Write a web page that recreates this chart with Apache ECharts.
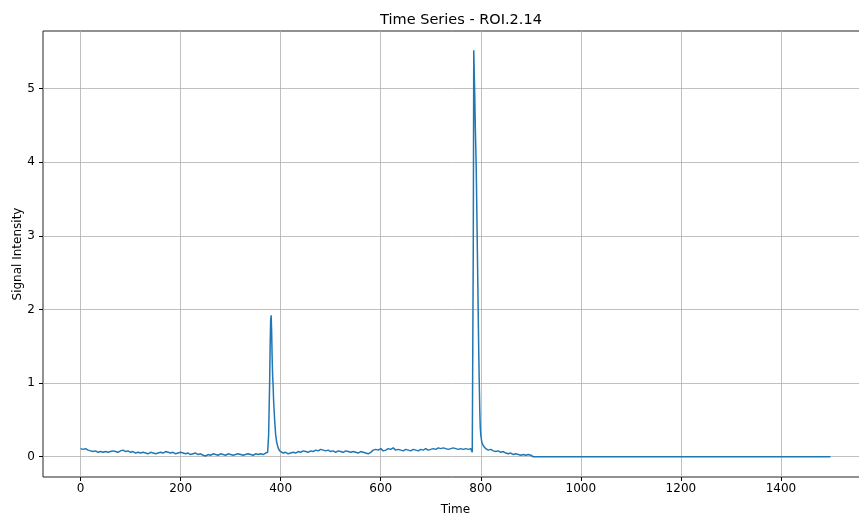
<!DOCTYPE html>
<html>
<head>
<meta charset="utf-8">
<script src="https://cdn.jsdelivr.net/npm/echarts@6/dist/echarts.min.js"></script>
<style>
body { margin: 0; padding: 0; background: #fff; }
#chart { width: 859px; height: 517px; }
</style>
</head>
<body>
<div id="chart"></div>
<script>
// sample times and signal values
const timeValues = [
  0, 5, 10, 15, 20, 25, 30, 35, 40, 45, 50, 55, 60, 65, 70, 75, 80, 85, 90, 95,
  100, 105, 110, 115, 120, 125, 130, 135, 140, 145, 150, 155, 160, 165, 170, 175, 180, 185, 190, 195,
  200, 205, 210, 215, 220, 225, 230, 235, 240, 245, 250, 255, 260, 265, 270, 275, 280, 285, 290, 295,
  300, 305, 310, 315, 320, 325, 330, 335, 340, 345, 350, 355, 360, 365, 370, 374,
  376, 378, 379, 380, 381, 382, 383, 384, 385, 386, 388, 390, 392, 395, 398, 400,
  405, 410, 415, 420, 425, 430, 435, 440, 445, 450, 455, 460, 465, 470, 475, 480, 485, 490, 495,
  500, 505, 510, 515, 520, 525, 530, 535, 540, 545, 550, 555, 560, 565, 570, 575, 580, 585, 590, 595,
  600, 605, 610, 615, 620, 625, 630, 635, 640, 645, 650, 655, 660, 665, 670, 675, 680, 685, 690, 695,
  700, 705, 710, 715, 720, 725, 730, 735, 740, 745, 750, 755, 760, 765, 770, 775, 780, 783, 784,
  785, 786, 787, 788, 789, 790, 791, 792, 793, 794, 795, 796, 797, 798, 799, 800, 802, 805,
  810, 815, 820, 825, 830, 835, 840, 845, 850, 855, 860, 865, 870, 875, 880, 885, 890, 895, 900, 905, 1499
];
const signalValues = [
  0.11, 0.10, 0.11, 0.09, 0.08, 0.07, 0.08, 0.06, 0.07, 0.06, 0.07, 0.06, 0.07, 0.08, 0.07, 0.06, 0.08, 0.09, 0.07, 0.08,
  0.06, 0.07, 0.05, 0.06, 0.05, 0.06, 0.05, 0.04, 0.06, 0.05, 0.04, 0.05, 0.06, 0.05, 0.07, 0.06, 0.05, 0.06, 0.04, 0.05,
  0.06, 0.05, 0.04, 0.05, 0.03, 0.04, 0.05, 0.03, 0.04, 0.02, 0.01, 0.03, 0.02, 0.04, 0.03, 0.02, 0.04, 0.03, 0.02, 0.04,
  0.03, 0.02, 0.03, 0.04, 0.03, 0.02, 0.03, 0.04, 0.03, 0.02, 0.04, 0.03, 0.04, 0.03, 0.05, 0.06,
  0.3, 1.0, 1.5, 1.85, 1.92, 1.7, 1.35, 1.1, 0.95, 0.75, 0.5, 0.3, 0.2, 0.12, 0.08, 0.07,
  0.05, 0.06, 0.04, 0.05, 0.06, 0.05, 0.07, 0.06, 0.08, 0.07, 0.06, 0.08, 0.07, 0.09, 0.08, 0.10, 0.09, 0.08, 0.09,
  0.07, 0.08, 0.06, 0.08, 0.07, 0.06, 0.08, 0.07, 0.06, 0.07, 0.06, 0.05, 0.07, 0.06, 0.05, 0.04, 0.06, 0.09, 0.10, 0.09,
  0.11, 0.08, 0.09, 0.11, 0.10, 0.12, 0.09, 0.10, 0.09, 0.08, 0.10, 0.09, 0.08, 0.10, 0.09, 0.08, 0.10, 0.09, 0.11, 0.09,
  0.10, 0.11, 0.10, 0.12, 0.11, 0.12, 0.11, 0.10, 0.11, 0.12, 0.11, 0.10, 0.11, 0.10, 0.11, 0.10, 0.11, 0.06, 0.05,
  2.8, 5.52, 5.2, 4.9, 4.5, 4.2, 3.9, 3.4, 2.9, 2.4, 1.9, 1.4, 1.0, 0.65, 0.4, 0.3, 0.2, 0.15,
  0.11, 0.09, 0.10, 0.08, 0.07, 0.08, 0.06, 0.07, 0.05, 0.04, 0.05, 0.03, 0.04, 0.03, 0.02, 0.03, 0.02, 0.03, 0.02, 0.0, 0.0
];
const xTicks = [0, 200, 400, 600, 800, 1000, 1200, 1400];
const yTicks = [0, 1, 2, 3, 4, 5];

const font = "DejaVu Sans";
const gridLine = { show: true, lineStyle: { color: "#b0b0b0", width: 0.8 } };

let points = timeValues.map((t, i) => [t, signalValues[i]]);

let option = {
  backgroundColor: "#fff",
  animation: false,
  title: {
    text: "Time Series - ROI.2.14",
    left: 456,
    top: 8,
    textAlign: "center",
    textStyle: { fontFamily: font, fontSize: 14.5, fontWeight: "normal", color: "#000" },
  },
  // the right part of the axes box is cut off in the original figure
  grid: {
    left: 43, right: -9, top: 31, bottom: 40,
    outerBoundsMode: "none",
    containLabel: false,
    show: true, borderColor: "#222", borderWidth: 1, backgroundColor: "transparent",
  },
  xAxis: {
    type: "value",
    min: -75,
    max: 1574,
    name: "Time",
    nameLocation: "middle",
    nameGap: 27,
    nameMoveOverlap: false,
    nameTextStyle: { fontFamily: font, fontSize: 12, color: "#000" },
    axisLine: { show: false, onZero: false },
    axisTick: { show: true, inside: false, length: 4, customValues: xTicks, lineStyle: { color: "#000" } },
    axisLabel: { customValues: xTicks, formatter: (v) => String(v), fontFamily: font, fontSize: 12, color: "#000", margin: 6 },
    splitLine: gridLine,
  },
  yAxis: {
    type: "value",
    min: -0.275,
    max: 5.78,
    name: "Signal Intensity",
    nameLocation: "middle",
    nameGap: 19,
    nameMoveOverlap: false,
    nameTextStyle: { fontFamily: font, fontSize: 12, color: "#000" },
    axisLine: { show: false, onZero: false },
    axisTick: { show: true, inside: false, length: 4, customValues: yTicks, lineStyle: { color: "#000" } },
    axisLabel: { customValues: yTicks, formatter: (v) => String(v), fontFamily: font, fontSize: 12, color: "#000", margin: 8 },
    splitLine: gridLine,
  },
  series: [
    {
      type: "line",
      data: points,
      showSymbol: false,
      smooth: false,
      lineStyle: { color: "#1f77b4", width: 1.5 },
      itemStyle: { color: "#1f77b4" },
    },
  ],
};

let chart = echarts.init(document.querySelector("#chart"));
chart.setOption(option);
</script>
</body>
</html>
